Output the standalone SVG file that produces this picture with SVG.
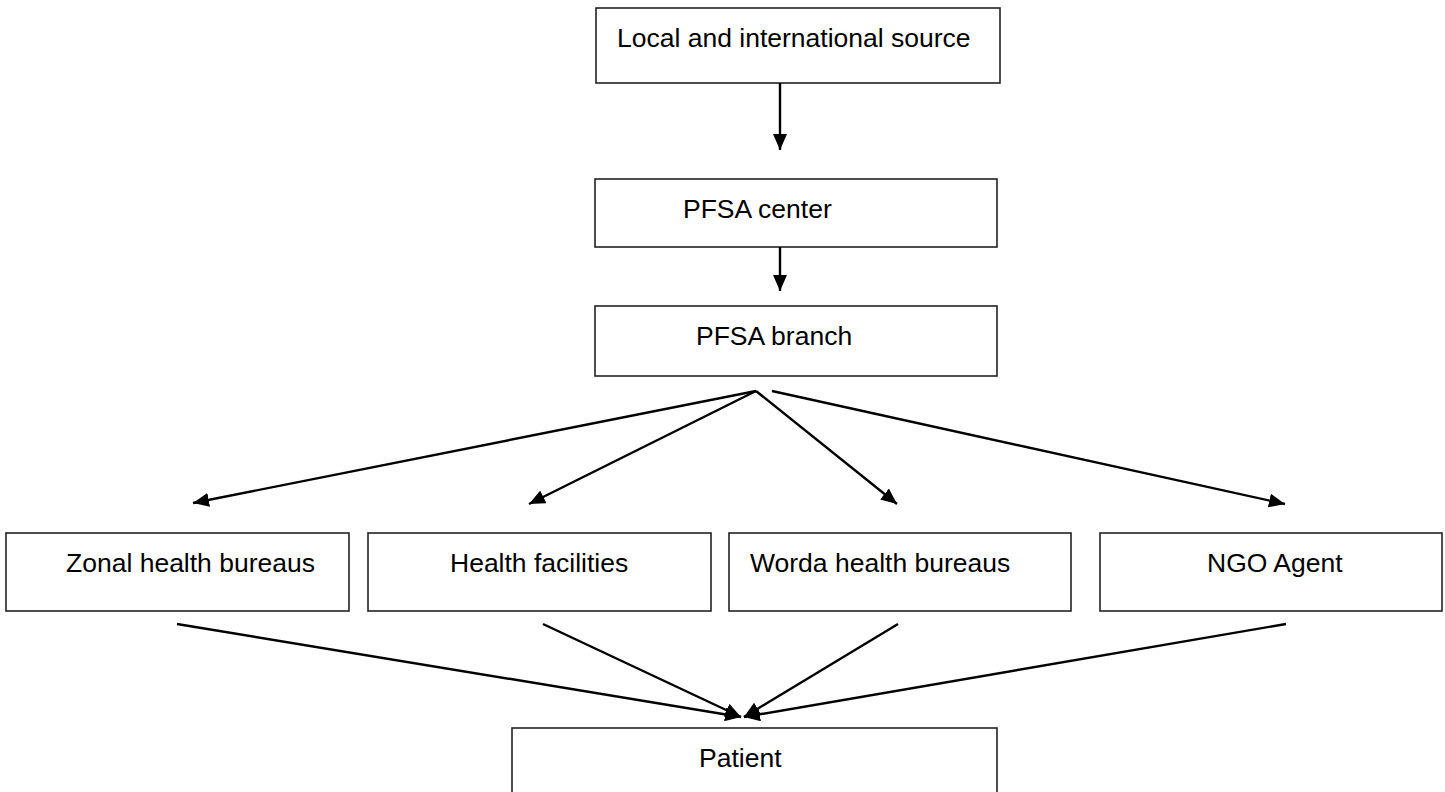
<svg xmlns="http://www.w3.org/2000/svg" width="1445" height="792" viewBox="0 0 1445 792">
  <style>
    .box { fill: #ffffff; stroke: #222222; stroke-width: 1.6; }
    .lbl { font-family: "Liberation Sans", Arial, sans-serif; font-size: 26.5px; fill: #000000; }
    .conn { stroke: #000000; stroke-width: 2.4; fill: none; marker-end: url(#arrow); }
  </style>
  <defs>
    <marker id="arrow" viewBox="0 0 16 14" refX="16" refY="7" markerWidth="16" markerHeight="14" markerUnits="userSpaceOnUse" orient="auto">
      <path d="M0,0 L16,7 L0,14 z" fill="#000000"/>
    </marker>
  </defs>
  <rect width="1445" height="792" fill="#ffffff"/>

  <g id="node-source">
    <rect class="box" x="596" y="8" width="404" height="75"/>
    <text class="lbl" x="617" y="47">Local and international source</text>
  </g>
  <g id="node-pfsa-center">
    <rect class="box" x="595" y="179" width="402" height="68"/>
    <text class="lbl" x="683" y="218">PFSA center</text>
  </g>
  <g id="node-pfsa-branch">
    <rect class="box" x="595" y="306" width="402" height="70"/>
    <text class="lbl" x="696" y="345">PFSA branch</text>
  </g>
  <g id="node-zonal">
    <rect class="box" x="6" y="533" width="343" height="78"/>
    <text class="lbl" x="66" y="572">Zonal health bureaus</text>
  </g>
  <g id="node-health-facilities">
    <rect class="box" x="368" y="533" width="343" height="78"/>
    <text class="lbl" x="450" y="572">Health facilities</text>
  </g>
  <g id="node-worda">
    <rect class="box" x="729" y="533" width="342" height="78"/>
    <text class="lbl" x="750" y="572">Worda health bureaus</text>
  </g>
  <g id="node-ngo">
    <rect class="box" x="1100" y="533" width="342" height="78"/>
    <text class="lbl" x="1207" y="572">NGO Agent</text>
  </g>
  <g id="node-patient">
    <rect class="box" x="512" y="728" width="485" height="66"/>
    <text class="lbl" x="699" y="767">Patient</text>
  </g>

  <g id="connectors">
    <line class="conn" x1="780" y1="83" x2="780" y2="150"/>
    <line class="conn" x1="780" y1="247" x2="780" y2="291"/>
    <line class="conn" x1="756" y1="391" x2="193" y2="503"/>
    <line class="conn" x1="756" y1="391" x2="529" y2="504"/>
    <line class="conn" x1="756" y1="391" x2="897" y2="504"/>
    <line class="conn" x1="772" y1="391" x2="1285" y2="504"/>
    <line class="conn" x1="177" y1="624" x2="741" y2="717"/>
    <line class="conn" x1="543" y1="624" x2="741" y2="717"/>
    <line class="conn" x1="898" y1="624" x2="744" y2="717"/>
    <line class="conn" x1="1286" y1="624" x2="744" y2="717"/>
  </g>
</svg>
